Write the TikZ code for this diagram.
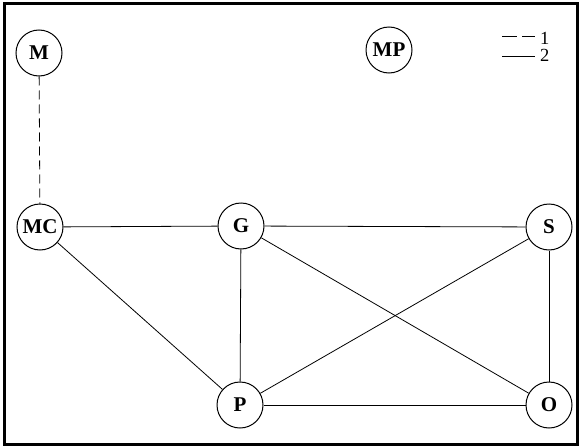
\documentclass[tikz,border=0pt]{standalone}
\usepackage{fontspec}
\setmainfont{Liberation Serif}
\begin{document}
\begin{tikzpicture}[x=1pt,y=-1pt,
  vert/.style={circle,draw,line width=1pt,minimum size=46pt,inner sep=0pt,
    font=\fontsize{21}{21}\selectfont\bfseries},
  edge/.style={line width=0.8pt},
  legendtext/.style={font=\fontsize{18.5}{18.5}\selectfont,inner sep=0pt,anchor=west}]
  \useasboundingbox (0,0) rectangle (581,447);
  \draw[line width=2.5pt] (4.5,3.5) rectangle (577.5,444.5);

  \node[vert] (M)  at (39,53)   {M};
  \node[vert] (MP) at (389,50)  {MP};
  \node[vert] (MC) at (40,227)  {MC};
  \node[vert] (G)  at (241,226) {G};
  \node[vert] (S)  at (549,227) {S};
  \node[vert] (P)  at (240,405) {P};
  \node[vert] (O)  at (549,405) {O};

  \draw[edge,dash pattern=on 9pt off 5pt] (M) -- (MC);
  \draw[edge] (MC) -- (G);
  \draw[edge] (G) -- (S);
  \draw[edge] (MC) -- (P);
  \draw[edge] (G) -- (P);
  \draw[edge] (G) -- (O);
  \draw[edge] (S) -- (P);
  \draw[edge] (S) -- (O);
  \draw[edge] (P) -- (O);

  % legend
  \coordinate (l1a) at (502,36);
  \coordinate (l1b) at (535,36);
  \coordinate (l2a) at (502,56);
  \coordinate (l2b) at (535,56);
  \draw[edge,dash pattern=on 15pt off 5pt] (l1a) -- (l1b);
  \draw[edge] (l2a) -- (l2b);
  \node[legendtext] (t1) at (540,38) {1};
  \node[legendtext] (t2) at (540,55.5) {2};
\end{tikzpicture}
\end{document}
